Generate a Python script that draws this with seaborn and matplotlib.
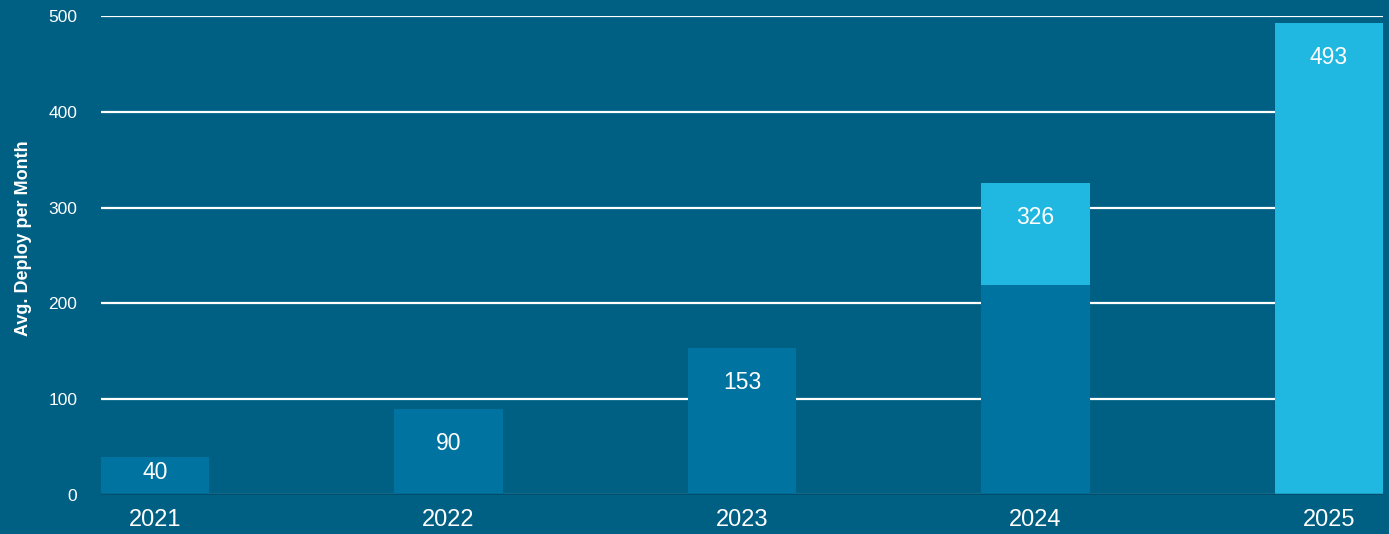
import matplotlib
matplotlib.use("Agg")
import matplotlib.pyplot as plt
import seaborn as sns
import pandas as pd

years = ["2021", "2022", "2023", "2024", "2025"]
totals = [40, 90, 153, 326, 493]
base_part = [40, 90, 153, 219, 0]
yticks = [0, 100, 200, 300, 400, 500]
ylabel = "Avg. Deploy per Month"

BG = "#006084"
DARK = "#0073A0"
LIGHT = "#20B7E1"
BASE = "#004E6C"

sns.set_theme(style="white")
plt.rcParams["font.family"] = ["Liberation Sans", "DejaVu Sans"]

fig = plt.figure(figsize=(13.89, 5.34), dpi=100, facecolor=BG)
ax = fig.add_axes([101/1389, 39/534, 1282/1389, 479/534])
ax.set_facecolor(BG)

df = pd.DataFrame({"year": years, "total": totals, "base": base_part})
w = 0.368
sns.barplot(data=df, x="year", y="total", color=LIGHT, saturation=1, width=w,
            ax=ax, zorder=2, linewidth=0, edgecolor="none")
sns.barplot(data=df, x="year", y="base", color=DARK, saturation=1, width=w,
            ax=ax, zorder=3, linewidth=0, edgecolor="none")

ax.set_xlim(-w/2, len(years) - 1 + w/2)
ax.set_ylim(0, 500)
ax.set_yticks(yticks)
ax.set_yticklabels([str(t) for t in yticks])
ax.grid(axis="y", color="white", linewidth=1.6, zorder=0)
ax.grid(axis="x", visible=False)
ax.set_axisbelow(True)
ax.axhline(0, color=BASE, linewidth=2.5, zorder=4)
for s in ax.spines.values():
    s.set_visible(False)

ax.tick_params(axis="y", length=0, pad=17, labelsize=12.5, labelcolor="white")
ax.tick_params(axis="x", length=0, pad=10, labelsize=17, labelcolor="white")
ax.set_xlabel("")
ax.set_ylabel(ylabel, color="white", fontsize=13, fontweight="bold")
ax.yaxis.set_label_coords(-0.054, 0.537)

for i, v in enumerate(totals):
    off = min(36, v * 0.4)
    ax.text(i, v - off, str(v), ha="center", va="center", color="white", fontsize=16.5, zorder=5)

fig.savefig("out.png", dpi=100, facecolor=BG)
